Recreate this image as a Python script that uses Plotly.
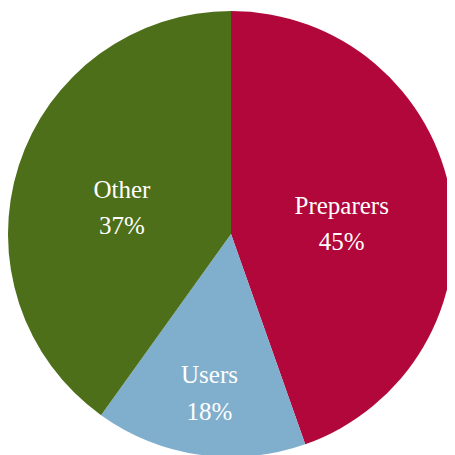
import plotly.graph_objects as go

labels = ["Preparers", "Users", "Other"]
values = [44.6, 15.3, 40.1]
pct_text = ["45%", "18%", "37%"]
colors = ["#B1073A", "#7FAFCD", "#4E6F1A"]

W = H = 455

fig = go.Figure(go.Pie(
    labels=labels,
    values=values,
    text=pct_text,
    texttemplate=("<span style='font-size:2px'>&nbsp;</span><br>"
                  "<span style='font-size:25px'>%{label}</span><br>"
                  "<span style='font-size:25px'>%{text}</span>"),
    textposition="inside",
    insidetextorientation="horizontal",
    textfont=dict(family="Liberation Serif", size=28, color="white"),
    marker=dict(colors=colors, line=dict(width=0)),
    sort=False,
    direction="clockwise",
    rotation=0,
    showlegend=False,
    hoverinfo="label+text",
    domain=dict(x=[0, 446 / W], y=[6 / H, 1 - 3 / H]),
))

fig.update_layout(
    width=W, height=H,
    margin=dict(l=0, r=0, t=0, b=0),
    paper_bgcolor="white",
    plot_bgcolor="white",
)

fig.write_html("out.html")
